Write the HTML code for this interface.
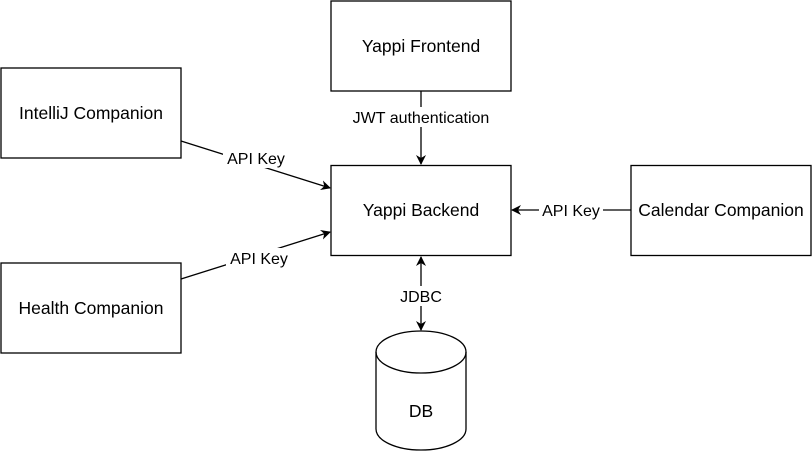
<!DOCTYPE html>
<html><head><style>
body{margin:0;background:#fff;}
svg text{font-family:"Liberation Sans",Helvetica,Arial,sans-serif;fill:#000;}
</style></head><body>
<svg width="812" height="452" viewBox="0 0 812 452" xmlns="http://www.w3.org/2000/svg">
<defs>
<marker id="a" viewBox="0 0 10 10" refX="9" refY="5" markerWidth="10" markerHeight="10" orient="auto-start-reverse" markerUnits="userSpaceOnUse">
<path d="M0,0 L10,5 L0,10 L3,5 Z" fill="#000"/>
</marker>
</defs>
<g fill="#fff" stroke="#000" stroke-width="1.3">
<rect x="331" y="1" width="180" height="90"/>
<rect x="1" y="68" width="180" height="90"/>
<rect x="331" y="165.5" width="180" height="90"/>
<rect x="631" y="165.5" width="180" height="90"/>
<rect x="1" y="263" width="180" height="90"/>
<path d="M376,352 A45,21 0 0 1 466,352 L466,429 A45,21 0 0 1 376,429 Z"/>
<path d="M376,352 A45,21 0 0 0 466,352" fill="none"/>
</g>
<g stroke="#000" stroke-width="1.3" fill="none">
<line x1="421" y1="91" x2="421" y2="164" marker-end="url(#a)"/>
<line x1="181" y1="141" x2="330" y2="188" marker-end="url(#a)"/>
<line x1="181" y1="279" x2="330" y2="232" marker-end="url(#a)"/>
<line x1="631" y1="210" x2="512" y2="210" marker-end="url(#a)"/>
<line x1="421" y1="257" x2="421" y2="330" marker-start="url(#a)" marker-end="url(#a)"/>
</g>
<g fill="#fff">
<rect x="348" y="107" width="146" height="20"/>
<rect x="223" y="148" width="66" height="20"/>
<rect x="226" y="248" width="66" height="20"/>
<rect x="539" y="200" width="64" height="20"/>
<rect x="397" y="286" width="48" height="20"/>
</g>
<g font-size="17.5" text-anchor="middle">
<text x="421" y="52">Yappi Frontend</text>
<text x="91" y="119">IntelliJ Companion</text>
<text x="421" y="216">Yappi Backend</text>
<text x="721" y="216">Calendar Companion</text>
<text x="91" y="314">Health Companion</text>
<text x="421" y="417">DB</text>
</g>
<g font-size="16" text-anchor="middle">
<text x="421" y="123">JWT authentication</text>
<text x="256" y="164">API Key</text>
<text x="259" y="264">API Key</text>
<text x="571" y="216">API Key</text>
<text x="421" y="302">JDBC</text>
</g>
</svg>
</body></html>
